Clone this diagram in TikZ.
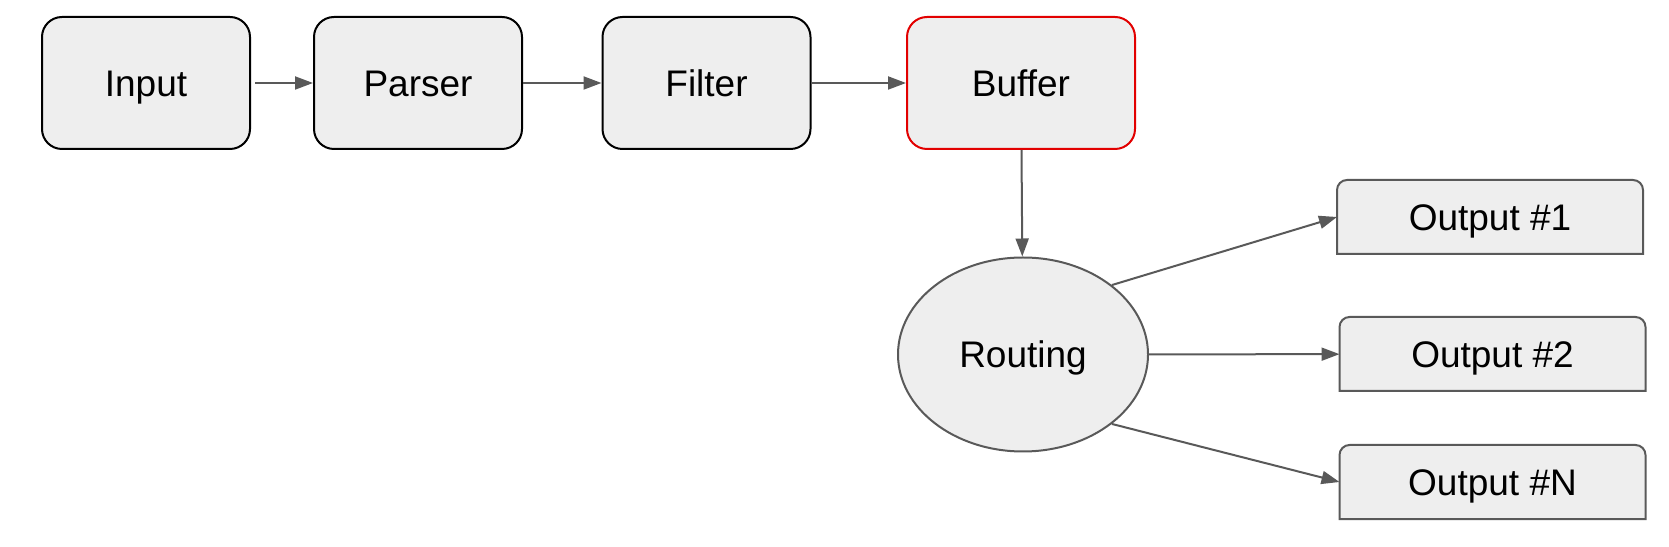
\documentclass[tikz,border=0pt]{standalone}
\usepackage{fontspec}
\setmainfont{Liberation Sans}
\usetikzlibrary{arrows.meta,shapes.geometric,backgrounds}

\begin{document}
\begin{tikzpicture}[x=1pt,y=1pt,
  box/.style={fill=fillColor,line width=1pt,inner sep=0pt,
    font=\fontsize{18.5}{22}\selectfont,text height=13.25pt,text depth=0pt},
  stage/.style={box,draw=black,rounded corners=10pt,minimum width=104pt,minimum height=66pt},
  outbox/.style={box,fill=none,minimum width=152pt,minimum height=36pt},
  link/.style={draw=lineColor,line width=1pt,-{Triangle[length=9pt,width=6.5pt]}}]
\definecolor{fillColor}{RGB}{238,238,238}
\definecolor{lineColor}{RGB}{89,89,89}
\definecolor{redColor}{RGB}{226,0,0}
\path[use as bounding box] (0,0) rectangle (834.50,273.00);

% pipeline
\node[stage] (input) at ( 73.00,231.50) {Input};
\node[stage] (parser) at (209.00,231.50) {Parser};
\node[stage] (filter) at (353.25,231.50) {Filter};
\node[stage,draw=redColor,minimum width=114pt] (buffer) at (510.50,231.50) {Buffer};

% routing
\node[box,shape=ellipse,draw=lineColor,minimum width=125pt,minimum height=97pt] (rout) at (511.50, 95.75) {Routing};

\node[outbox] (out1) at (745.00,164.50) {Output \#1};
\node[outbox] (out2) at (746.25, 96.00) {Output \#2};
\node[outbox] (outN) at (746.25, 32.00) {Output \#N};

\begin{scope}[on background layer]
\foreach \n in {out1,out2,outN}
  \path[draw=lineColor,fill=fillColor,line width=1pt] (\n.south west) [rounded corners=5pt] -- (\n.north west) -- (\n.north east) [sharp corners] -- (\n.south east) -- cycle;
\end{scope}

\path[link,shorten <=2pt] (input) -- (parser);
\path[link] (parser) -- (filter);
\path[link] (filter) -- (buffer);
\path[link] (buffer) -- (rout);

\path[link] (rout.38) -- (out1.west);
\path[link] (rout) -- (out2);
\path[link] (rout.-38) -- (outN.west);
\end{tikzpicture}
\end{document}
